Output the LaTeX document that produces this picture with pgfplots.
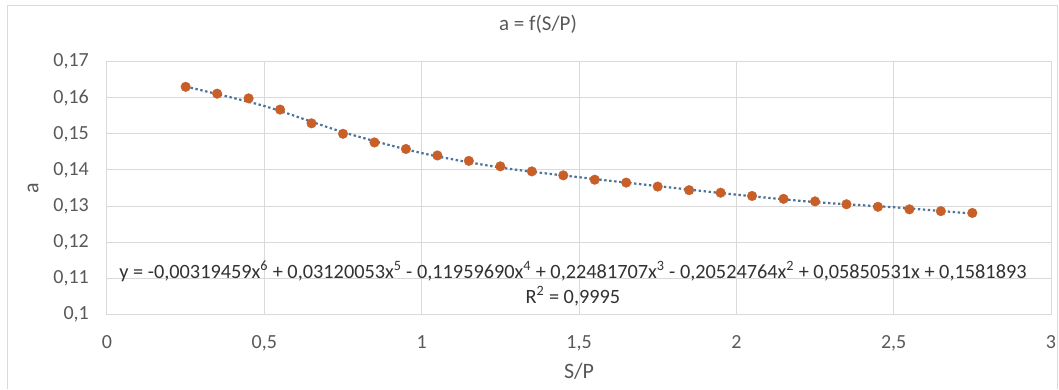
\documentclass[border=0pt]{standalone}
\usepackage{pgfplots}
\pgfplotsset{compat=1.18}
\usepackage{fontspec}
\setmainfont{Carlito}
\definecolor{gridgray}{RGB}{217,217,217}
\definecolor{labelgray}{RGB}{89,89,89}
\definecolor{eqgray}{RGB}{50,50,50}
\definecolor{ptorange}{RGB}{200,95,40}
\definecolor{trendblue}{RGB}{75,115,155}
\pgfplotstableread{
x y
0.25 0.1630
0.35 0.1611
0.45 0.1598
0.55 0.1567
0.65 0.1529
0.75 0.1500
0.85 0.1476
0.95 0.1458
1.05 0.1440
1.15 0.1425
1.25 0.1410
1.35 0.1396
1.45 0.1385
1.55 0.1373
1.65 0.1365
1.75 0.1354
1.85 0.1344
1.95 0.1337
2.05 0.1328
2.15 0.1320
2.25 0.1313
2.35 0.1305
2.45 0.1298
2.55 0.1291
2.65 0.1286
2.75 0.1281
}\points
\pgfplotstableread{
x y
0.25 0.16306
0.50 0.15768
0.75 0.15046
1.00 0.14467
1.25 0.14067
1.50 0.13798
1.75 0.13553
2.00 0.13316
2.25 0.13110
2.50 0.12967
2.75 0.12793
}\trend
\begin{document}
\begin{tikzpicture}
\useasboundingbox[fill=white] (-107pt,-74.5pt) rectangle (952pt,314.5pt);
\draw[gridgray, line width=1pt] (-99pt,-74.5pt) |- (950pt,308.5pt) -- (950pt,-74.5pt);
\begin{axis}[
  at={(0pt,0pt)}, anchor=south west,
  scale only axis, width=944pt, height=253pt,
  xmin=0, xmax=3, ymin=0.1, ymax=0.17,
  xtick={0,0.5,1,1.5,2,2.5,3},
  ytick={0.1,0.11,0.12,0.13,0.14,0.15,0.16,0.17},
  grid=major,
  major grid style={draw=gridgray, line width=1pt},
  axis line style={draw=gridgray, line width=1pt},
  tick style={draw=none},
  /pgf/number format/.cd, use comma, 1000 sep={}, precision=2, assume math mode=true,
  /pgfplots/.cd,
  ticklabel style={font=\fontsize{20}{22}\selectfont, text=labelgray},
  yticklabel style={anchor=east, inner sep=0pt, xshift=-18pt},
  xticklabel style={anchor=north, inner sep=0pt, yshift=-21pt},
  xlabel={S/P}, ylabel={a},
  label style={font=\fontsize{22}{24}\selectfont, text=labelgray},
  xlabel style={at={(axis description cs:0.5,-0.225)}, anchor=center},
  ylabel style={at={(axis description cs:-0.0784,0.5)}, anchor=center},
  title={a = f(S/P)},
  title style={font=\fontsize{21}{24}\selectfont, text=labelgray, at={(axis description cs:0.4566,1.1245)}, anchor=center},
  clip=false,
]
\addplot[trendblue, line width=2.2pt, dash pattern=on 2.4pt off 2.6pt, smooth] table {\trend};
\addplot[only marks, mark=*, mark size=4.8pt, mark options={fill=ptorange, draw=ptorange}] table {\points};
\node[align=center, text=eqgray, font=\fontsize{20.3}{25}\selectfont, inner sep=0pt] at (axis description cs:0.4936,0.1225)
 {y = -0,00319459x\textsuperscript{6} + 0,03120053x\textsuperscript{5} - 0,11959690x\textsuperscript{4} + 0,22481707x\textsuperscript{3} - 0,20524764x\textsuperscript{2} + 0,05850531x + 0,1581893\\R\textsuperscript{2} = 0,9995};
\end{axis}
\end{tikzpicture}
\end{document}
